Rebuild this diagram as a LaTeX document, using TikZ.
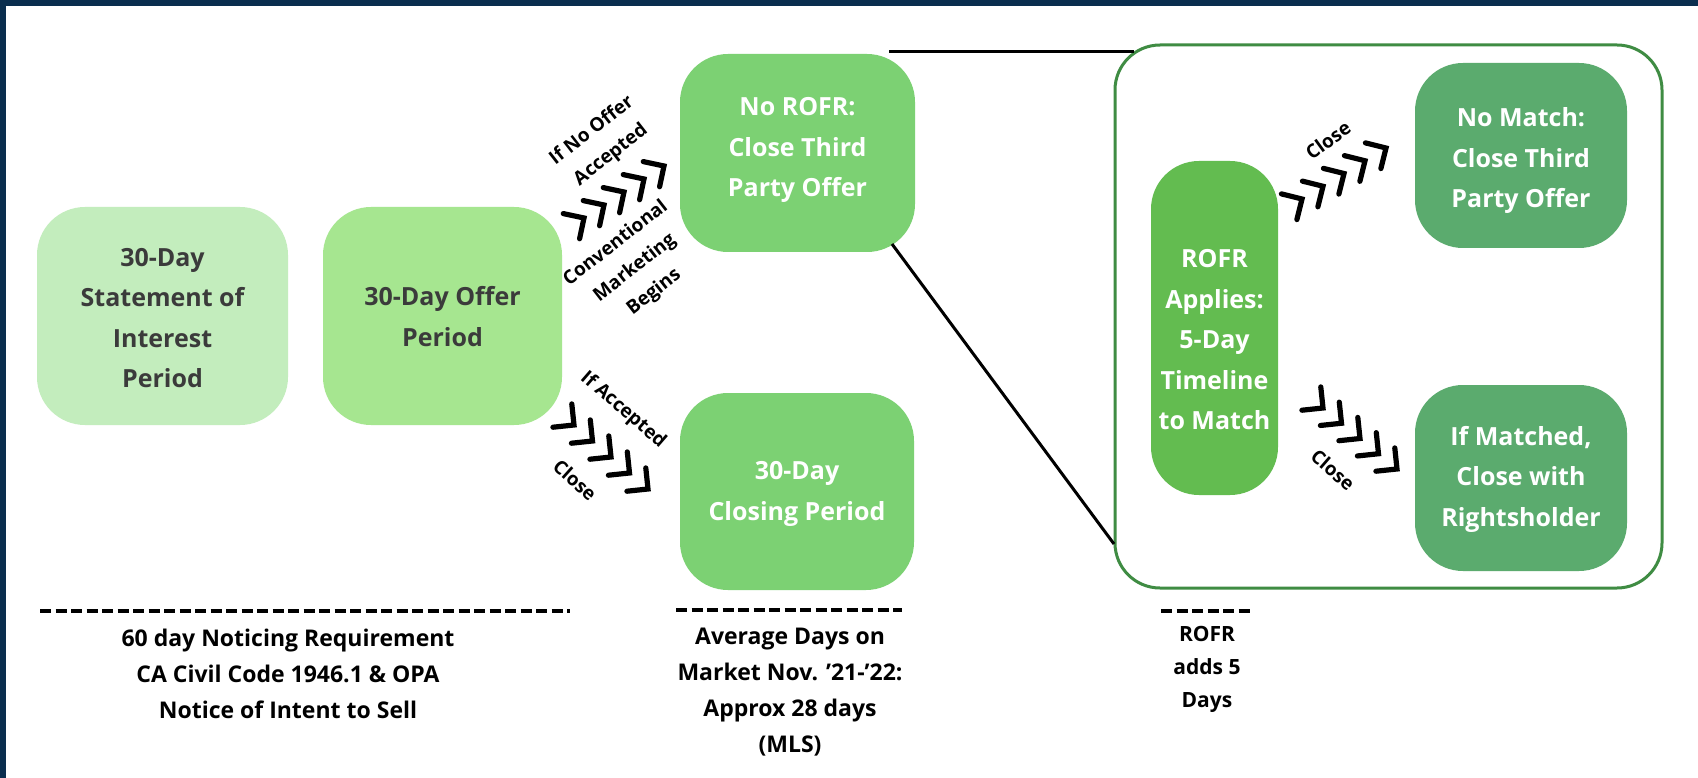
\documentclass[tikz,border=0pt]{standalone}
\usepackage{fontspec}
\setmainfont{Open Sans}
\definecolor{navy}{HTML}{0A2E4E}
\definecolor{cA}{HTML}{C3EDBD}
\definecolor{cB}{HTML}{A6E690}
\definecolor{cC}{HTML}{7CD173}
\definecolor{cD}{HTML}{63BC50}
\definecolor{cE}{HTML}{5BAB6E}
\definecolor{outl}{HTML}{3F8C43}
\definecolor{darktxt}{HTML}{3B3B3B}
\tikzset{
  box/.style={rounded corners=48pt, inner sep=0pt, align=center, text=white,
    font=\fontsize{25}{40.5}\selectfont\bfseries},
  lbl/.style={inner sep=0pt, align=center, text=black,
    font=\fontsize{19}{31}\selectfont\bfseries},
  bot/.style={inner sep=0pt, align=center, text=black,
    font=\fontsize{23}{36}\selectfont\bfseries},
  botsmall/.style={inner sep=0pt, align=center, text=black,
    font=\fontsize{21}{33}\selectfont\bfseries},
  conn/.style={draw=black, line width=3pt},
  dashline/.style={draw=black, line width=4.2pt, dash pattern=on 11pt off 4.5pt},
  chevline/.style={draw=black, line width=5.2pt, line cap=round, line join=miter},
  chev/.pic={\draw[chevline] (-15,-15) -- (0,0) -- (-15,15);}
}
\begin{document}
\begin{tikzpicture}[x=1pt,y=-1pt]
\useasboundingbox (0,0) rectangle (1698,778);
\fill[white] (0,0) rectangle (1698,778);
\fill[navy] (0,0) rectangle (1698,6);
\fill[navy] (0,0) rectangle (6,778);

% big outline box
\node[draw=outl, line width=3pt, rounded corners=45pt, minimum width=547pt, minimum height=543pt, inner sep=0pt] (big) at (1388.5,316.5) {};

% main boxes
\node[box, fill=cA, text=darktxt, minimum width=251pt, minimum height=218pt] (b1) at (162.5,316) {};
\node[box, text=darktxt] (b1t) at (162.5,318) {30-Day\\Statement of\\Interest\\Period};
\node[box, fill=cB, text=darktxt, minimum width=239pt, minimum height=218pt] (b2) at (442.5,316) {};
\node[box, text=darktxt] (b2t) at (442.5,316.5) {30-Day Offer\\Period};
\node[box, fill=cC, minimum width=235pt, minimum height=198pt] (b3) at (797.5,153) {};
\node[box] (b3t) at (797.5,150) {No ROFR:\\Close Third\\Party Offer};
\node[box, fill=cC, minimum width=234pt, minimum height=197pt] (b4) at (797,491.5) {};
\node[box] (b4t) at (797,494) {30-Day\\Closing Period};
\node[box, fill=cD, minimum width=127pt, minimum height=334pt] (b5) at (1214.5,328) {};
\node[box] (b5t) at (1214.5,340) {ROFR\\Applies:\\5-Day\\Timeline\\to Match};
\node[box, fill=cE, minimum width=212pt, minimum height=185pt] (b6) at (1521,155.5) {};
\node[box] (b6t) at (1521,161) {No Match:\\Close Third\\Party Offer};
\node[box, fill=cE, minimum width=212pt, minimum height=186pt] (b7) at (1521,478) {};
\node[box] (b7t) at (1521,479) {If Matched,\\Close with\\Rightsholder};

% callout connectors
\coordinate (p1) at (889,52);
\coordinate (q1) at (1134,52);
\coordinate (p2) at (892,244);
\coordinate (q2) at (1114,544);
\draw[conn] (p1) -- (q1);
\draw[conn] (p2) -- (q2);

% chevrons
\foreach \i in {0,...,4} \pic[rotate=33] at ({584+20*\i},{218-13*\i}) {chev};
\foreach \i in {0,...,4} \pic[rotate=-39] at ({574+18.5*\i},{425+16*\i}) {chev};
\foreach \i in {0,...,4} \pic[rotate=31] at ({1302+21*\i},{199-12.75*\i}) {chev};
\foreach \i in {0,...,4} \pic[rotate=-39] at ({1323+18.5*\i},{408+15.25*\i}) {chev};

% chevron labels
\node[lbl, rotate=38] (l1) at (601.5,143) {If No Offer\\Accepted};
\node[lbl, rotate=38] (l2) at (635,268) {Conventional\\Marketing\\Begins};
\node[lbl, rotate=-41] (l3) at (623,410) {If Accepted};
\node[lbl, rotate=-42] (l4) at (575,480) {Close};
\node[lbl, rotate=36] (l5) at (1328,140) {Close};
\node[lbl, rotate=-41] (l6) at (1333,470) {Close};

% bottom dashed rules
\coordinate (d1a) at (40,611);
\coordinate (d1b) at (570,611);
\coordinate (d2a) at (676,610);
\coordinate (d2b) at (902,610);
\coordinate (d3a) at (1161,611);
\coordinate (d3b) at (1254,611);
\draw[dashline] (d1a) -- (d1b);
\draw[dashline] (d2a) -- (d2b);
\draw[dashline] (d3a) -- (d3b);

% bottom notes
\node[bot] (t1) at (288,674) {60 day Noticing Requirement\\CA Civil Code 1946.1 \& OPA\\Notice of Intent to Sell};
\node[bot] (t2) at (790,692) {Average Days on\\Market Nov. '21-'22:\\Approx 28 days\\(MLS)};
\node[botsmall] (t3) at (1207,669) {ROFR\\adds 5\\Days};
\end{tikzpicture}
\end{document}
